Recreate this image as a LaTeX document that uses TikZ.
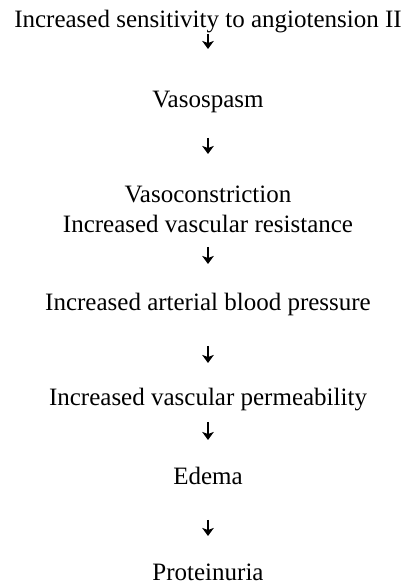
\documentclass[tikz,border=0pt]{standalone}
\usepackage{fontspec}
\setmainfont{Liberation Serif}
\usetikzlibrary{arrows.meta}
\begin{document}
\begin{tikzpicture}[x=1pt,y=1pt,
  lbl/.style={anchor=base,inner sep=0pt,font=\fontsize{25}{30}\selectfont},
  arr/.style={line width=2.8pt,-{Stealth[length=8pt,width=11.5pt,inset=2pt]}}]
\useasboundingbox (0,0) rectangle (411,587);
\node[lbl] (n1) at (208,559) {Increased sensitivity to angiotension II};
\node[lbl] (n2) at (208,479) {Vasospasm};
\node[lbl] (n3) at (208,384) {Vasoconstriction};
\node[lbl] (n3b) at (208,354) {Increased vascular resistance};
\node[lbl] (n4) at (208,276) {Increased arterial blood pressure};
\node[lbl] (n5) at (208,181) {Increased vascular permeability};
\node[lbl] (n6) at (208,102) {Edema};
\node[lbl] (n7) at (208,6) {Proteinuria};
\coordinate (a1s) at (208,553); \coordinate (a1e) at (208,538);
\coordinate (a2s) at (208,449); \coordinate (a2e) at (208,433);
\coordinate (a3s) at (208,340); \coordinate (a3e) at (208,323);
\coordinate (a4s) at (208,241); \coordinate (a4e) at (208,224);
\coordinate (a5s) at (208,165); \coordinate (a5e) at (208,147);
\coordinate (a6s) at (208,67); \coordinate (a6e) at (208,51);
\draw[arr] (a1s) -- (a1e);
\draw[arr] (a2s) -- (a2e);
\draw[arr] (a3s) -- (a3e);
\draw[arr] (a4s) -- (a4e);
\draw[arr] (a5s) -- (a5e);
\draw[arr] (a6s) -- (a6e);
\end{tikzpicture}
\end{document}
